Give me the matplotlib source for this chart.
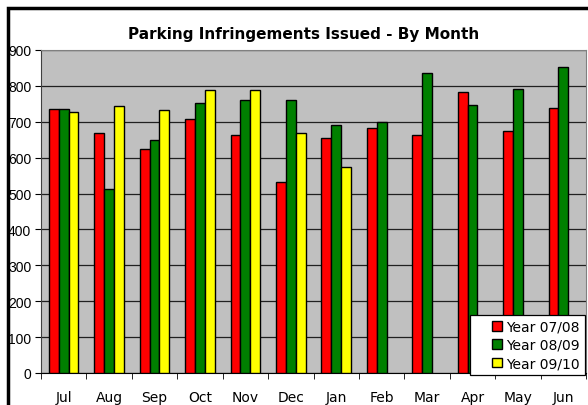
#!/usr/bin/env python3
"""Parking infringements issued by month, three financial years."""

import numpy as np
import matplotlib.pyplot as plt
from matplotlib.container import BarContainer
from matplotlib.patches import Rectangle
from matplotlib.legend_handler import HandlerPatch, update_from_first_child

months = ["Jul", "Aug", "Sep", "Oct", "Nov", "Dec", "Jan", "Feb", "Mar", "Apr", "May", "Jun"]
year_0708 = [735, 670, 624, 709, 663, 531, 654, 683, 663, 782, 675, 739]
year_0809 = [735, 512, 649, 751, 760, 760, 691, 700, 837, 746, 790, 854]
year_0910 = [727, 743, 734, 789, 789, 670, 573, np.nan, np.nan, np.nan, np.nan, np.nan]
series_names = ["Year 07/08", "Year 08/09", "Year 09/10"]
colors = ["#FF0000", "#008000", "#FFFF00"]


def square_right(legend, orig_handle, xdescent, ydescent, width, height, fontsize):
    # small square key pushed to the right of a wider handle box
    return Rectangle((width - height - xdescent, -ydescent), height, height)


def main() -> int:
    fig = plt.figure(figsize=(5.88, 4.06), dpi=100)
    ax = fig.add_axes([41 / 588, 1 - 374 / 406, 545 / 588, 323 / 406])
    ax.set_facecolor("#C0C0C0")

    x = np.arange(len(months))
    width = 0.216
    for i, (vals, name, c) in enumerate(zip([year_0708, year_0809, year_0910], series_names, colors)):
        ax.bar(x + (i - 1) * width, vals, width, color=c, edgecolor="black",
               linewidth=1.0, label=name, zorder=3)

    ax.set_xlim(-0.5, len(months) - 0.5)
    ax.set_ylim(0, 900)
    ax.set_yticks(range(0, 901, 100))
    ax.yaxis.grid(True, color="#202020", linewidth=0.9, zorder=1)
    ax.set_axisbelow(True)

    ax.set_xticks(x)
    ax.set_xticklabels(months)
    ax.set_xticks(np.arange(-0.5, len(months), 1.0), minor=True)
    ax.tick_params(axis="x", which="major", length=0, pad=12, labelsize=10)
    ax.tick_params(axis="x", which="minor", length=4, color="black")
    ax.tick_params(axis="y", length=4, pad=3, labelsize=10)
    for lab in ax.get_yticklabels():
        lab.set_family("Liberation Sans")

    for side in ("top", "right"):
        ax.spines[side].set_color("#808080")
    ax.spines["left"].set_color("#404040")
    ax.spines["bottom"].set_color("black")

    fig.text(304 / 588, 1 - 35 / 406, "Parking Infringements Issued - By Month",
             ha="center", va="center", fontsize=11, fontweight="bold")

    key = HandlerPatch(patch_func=square_right, update_func=update_from_first_child)
    leg = ax.legend(loc="lower right", bbox_to_anchor=(585 / 588, 1 - 376 / 406),
                    bbox_transform=fig.transFigure, frameon=True, fancybox=False,
                    edgecolor="black", framealpha=1, fontsize=10, handlelength=1.9,
                    handleheight=0.65, handletextpad=0.35, labelspacing=0.3,
                    borderpad=0.35, borderaxespad=0,
                    handler_map={BarContainer: key})
    leg.get_frame().set_linewidth(0.9)
    leg.set_zorder(5)

    # outer chart border, cut off at right and bottom like the source
    fig.patches.append(Rectangle((8 / 588, -0.1), 1.2, 1 - 9 / 406 + 0.1,
                                 transform=fig.transFigure, fill=False,
                                 edgecolor="black", linewidth=2.5))

    fig.savefig("out.png", dpi=100)
    plt.close(fig)
    return 0


if __name__ == "__main__":
    raise SystemExit(main())
